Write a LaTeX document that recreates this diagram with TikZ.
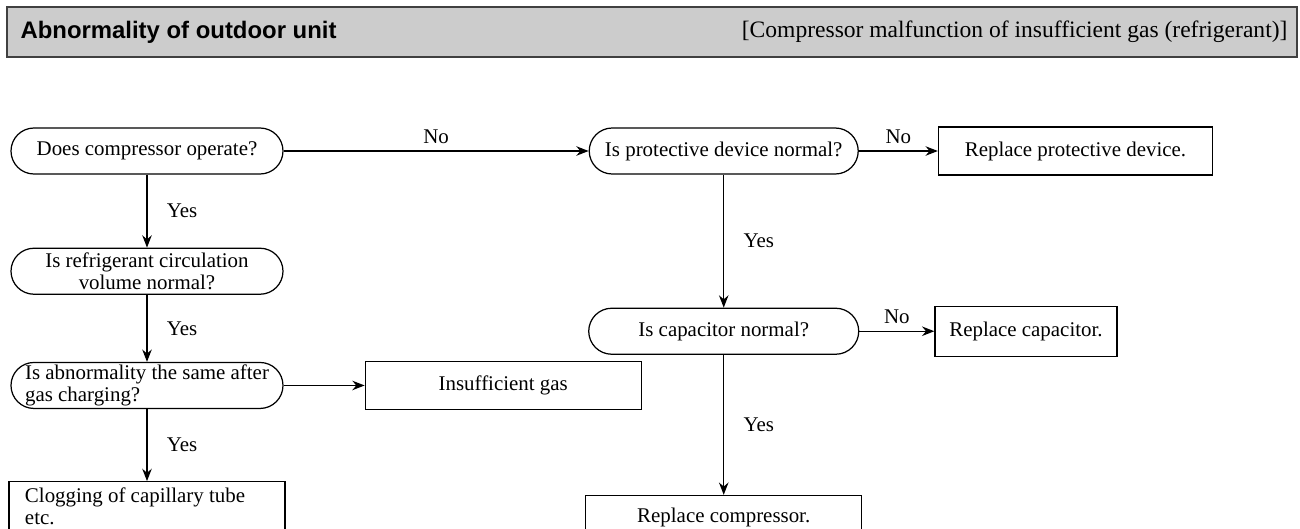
\documentclass[tikz,border=0pt]{standalone}
\usepackage{fontspec}
\setmainfont{Liberation Serif}
\newfontfamily\headsans{Liberation Sans}
\usetikzlibrary{arrows.meta,positioning}
\definecolor{headGray}{RGB}{204,204,204}
\newcommand\chartfont{\fontsize{11.9}{12.4}\selectfont}
\tikzset{
  hdr/.style={draw=black!75,line width=0.9pt,fill=headGray,minimum width=25.8cm,minimum height=1.0cm},
  dec/.style={draw,line width=0.7pt,rounded corners=0.46cm,minimum width=5.44cm,minimum height=0.92cm,
              align=center,inner sep=1pt,font=\chartfont},
  act/.style={draw,line width=0.7pt,minimum width=5.52cm,minimum height=0.96cm,
              align=center,inner sep=1pt,font=\chartfont},
  lbl/.style={font=\chartfont,inner sep=2pt},
  arr/.style={-{Stealth[length=7pt,width=5.4pt]},line width=0.7pt},
}
\begin{document}
\begin{tikzpicture}[node distance=1.5cm and 1.5cm]
  \useasboundingbox (0,0) rectangle (26,-10.56);
  \node[hdr] (head) at (13.04,-0.64) {};
  \node[font=\headsans\bfseries\fontsize{13.6}{16}\selectfont,inner sep=0pt,right=0.28cm of head.west] (title)
    {Abnormality of outdoor unit};
  \node[font=\fontsize{13.4}{16}\selectfont,inner sep=0pt,left=0.2cm of head.east] (subtitle)
    {[Compressor malfunction of insufficient gas (refrigerant)]};

  % left column
  \node[dec] (q1) at (2.94,-3.02) {Does compressor operate?};
  \node[dec,below=1.46cm of q1] (q2) {Is refrigerant circulation\\volume normal?};
  \node[dec,align=left,below=1.34cm of q2] (q3) {Is abnormality the same after\\gas charging?};
  \node[act,align=flush left,text width=4.88cm,minimum height=0.98cm,below=1.44cm of q3] (clog)
    {Clogging of capillary tube\\etc.};
  \node[act,right=1.62cm of q3] (gas) {Insufficient gas};

  % right column
  \node[dec,minimum width=5.38cm,right=6.1cm of q1] (q4) {Is protective device normal?};
  \node[act,minimum width=5.48cm,right=1.58cm of q4] (rprot) {Replace protective device.};
  \node[dec,minimum width=5.4cm,below=2.66cm of q4] (q5) {Is capacitor normal?};
  \node[act,minimum width=3.64cm,minimum height=1.0cm,right=1.5cm of q5] (rcap) {Replace capacitor.};
  \node[act,minimum height=0.88cm,below=2.8cm of q5] (rcomp) {Replace compressor.};

  \draw[arr] (q1) -- node[lbl,right=9pt] (yes1) {Yes} (q2);
  \draw[arr] (q2) -- node[lbl,right=9pt] (yes2) {Yes} (q3);
  \draw[arr] (q3) -- node[lbl,right=9pt] (yes3) {Yes} (clog);
  \draw[arr] (q3) -- (gas);
  \draw[arr] (q1) -- node[lbl,above=2pt] (no1) {No} (q4);
  \draw[arr] (q4) -- node[lbl,above=2pt] (no2) {No} (rprot);
  \draw[arr] (q4) -- node[lbl,right=9pt] (yes4) {Yes} (q5);
  \draw[arr] (q5) -- node[lbl,above=2pt] (no3) {No} (rcap);
  \draw[arr] (q5) -- node[lbl,right=9pt] (yes5) {Yes} (rcomp);
\end{tikzpicture}
\end{document}
